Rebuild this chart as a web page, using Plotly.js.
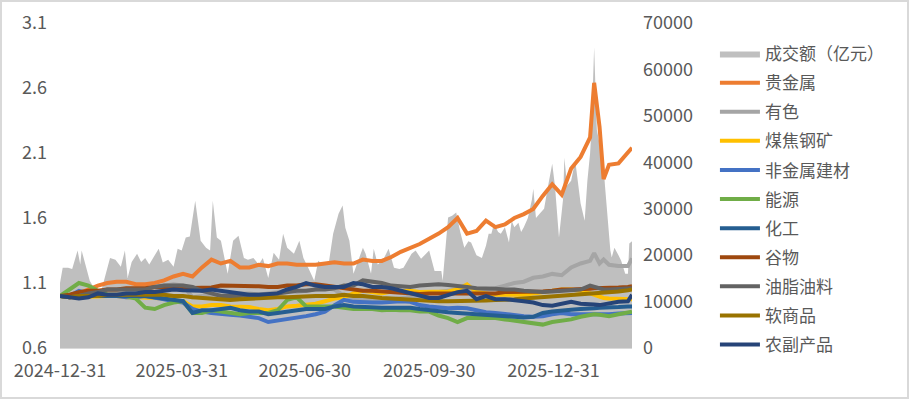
<!DOCTYPE html>
<html>
<head>
<meta charset="utf-8">
<script src="https://cdn.plot.ly/plotly-3.0.1.min.js"></script>
<style>
  html, body { margin: 0; padding: 0; background: #fff; }
  #wrap { position: relative; width: 909px; height: 399px; }
  #chart { width: 909px; height: 399px; }
  #frame { position: absolute; left: 0; top: 0; width: 909px; height: 399px; box-sizing: border-box; border: 2px solid #D9D9D9; pointer-events: none; }
</style>
</head>
<body>
<div id="wrap"><div id="chart"></div><div id="frame"></div></div>
<script>
// ---------- data ----------
const tickDates = ['2024-12-31', '2025-03-31', '2025-06-30', '2025-09-30', '2025-12-31'];

const volumeName = '成交额（亿元）';
const seriesNames = ['贵金属', '有色', '煤焦钢矿', '非金属建材', '能源', '化工', '谷物', '油脂油料', '软商品', '农副产品'];
const seriesColors = ['#ED7D31', '#A5A5A5', '#FFC000', '#4472C4', '#70AD47', '#255E91', '#9E480E', '#636363', '#997300', '#264478'];

const volDates = [
  '2024-12-31','2025-01-02','2025-01-06','2025-01-09','2025-01-13','2025-01-15','2025-01-16','2025-01-19','2025-01-22','2025-01-26',
  '2025-01-30','2025-02-02','2025-02-06','2025-02-10','2025-02-14','2025-02-17','2025-02-19','2025-02-22','2025-02-26','2025-03-01',
  '2025-03-04','2025-03-07','2025-03-10','2025-03-14','2025-03-17','2025-03-21','2025-03-25','2025-03-28','2025-03-31','2025-04-03',
  '2025-04-06','2025-04-10','2025-04-14','2025-04-18','2025-04-21','2025-04-23','2025-04-26','2025-04-29','2025-05-04','2025-05-08',
  '2025-05-12','2025-05-16','2025-05-19','2025-05-23','2025-05-27','2025-05-30','2025-06-03','2025-06-07','2025-06-11','2025-06-14',
  '2025-06-17','2025-06-22','2025-06-26','2025-06-29','2025-07-03','2025-07-07','2025-07-10','2025-07-13','2025-07-18','2025-07-21',
  '2025-07-25','2025-07-28','2025-07-30','2025-08-02','2025-08-05','2025-08-09','2025-08-12','2025-08-14','2025-08-18','2025-08-20',
  '2025-08-23','2025-08-27','2025-08-31','2025-09-04','2025-09-08','2025-09-11','2025-09-17','2025-09-20','2025-09-24','2025-09-30',
  '2025-10-04','2025-10-09','2025-10-10','2025-10-14','2025-10-17','2025-10-20','2025-10-23','2025-10-26','2025-10-29','2025-10-31',
  '2025-11-04','2025-11-08','2025-11-11','2025-11-13','2025-11-15','2025-11-17','2025-11-20','2025-11-22','2025-11-25','2025-11-28',
  '2025-11-30','2025-12-02','2025-12-05','2025-12-07','2025-12-09','2025-12-12','2025-12-15','2025-12-16','2025-12-18','2025-12-21',
  '2025-12-24','2025-12-27','2025-12-30','2026-01-01','2026-01-03','2026-01-04','2026-01-07','2026-01-08','2026-01-10','2026-01-13',
  '2026-01-16','2026-01-18','2026-01-20','2026-01-23','2026-01-25','2026-01-27','2026-01-28','2026-01-30','2026-02-01','2026-02-03',
  '2026-02-05','2026-02-07','2026-02-08','2026-02-11','2026-02-12','2026-02-14','2026-02-17','2026-02-19','2026-02-22','2026-02-24',
  '2026-02-25','2026-02-27'
];
const volume = [
  14000,17300,17300,17000,21000,18000,21000,17500,14500,12500,
  11700,15000,19400,19000,17500,21000,15100,18500,20300,18500,
  19400,18000,19400,21400,18400,19000,17500,21400,21000,23800,
  24000,31700,23100,21600,21000,31700,23800,23100,16000,23100,
  24200,19400,19000,19400,18000,19400,15100,20500,19000,24600,
  21600,20300,23100,19400,17000,14500,18800,18000,18800,24600,
  28900,30700,25900,23100,16000,19000,21600,20300,16000,21400,
  18000,19000,21400,17300,17000,17300,20300,21000,19200,21000,
  16600,16600,14500,28100,28500,29200,25000,21600,23000,22700,
  20000,19400,22000,24600,24600,26800,25000,24600,26000,22700,
  27400,26000,27000,25000,26000,28000,32000,34300,28000,29000,
  30000,35000,39700,35000,28000,23800,32000,41000,35000,36000,
  40400,36000,31100,27400,36000,41900,46900,64800,47000,44000,
  43200,35000,31000,21000,19500,21600,20000,18800,16000,16000,
  22500,23000
];

const lineDates = [
  '2024-12-31','2025-01-07','2025-01-14','2025-01-21','2025-01-28','2025-02-04','2025-02-11','2025-02-18','2025-02-25','2025-03-04',
  '2025-03-11','2025-03-18','2025-03-25','2025-04-01','2025-04-08','2025-04-15','2025-04-22','2025-04-29','2025-05-06','2025-05-13',
  '2025-05-20','2025-05-27','2025-06-03','2025-06-10','2025-06-17','2025-06-24','2025-07-01','2025-07-08','2025-07-15','2025-07-22',
  '2025-07-29','2025-08-05','2025-08-12','2025-08-19','2025-08-26','2025-09-02','2025-09-09','2025-09-16','2025-09-23','2025-09-30',
  '2025-10-07','2025-10-14','2025-10-21','2025-10-28','2025-11-04','2025-11-11','2025-11-18','2025-11-25','2025-12-02','2025-12-09',
  '2025-12-16','2025-12-23','2025-12-30','2026-01-06','2026-01-13','2026-01-20','2026-01-27','2026-01-30','2026-02-03','2026-02-06',
  '2026-02-10','2026-02-17','2026-02-24','2026-02-27'
];

const preciousMetals = [
  1.00,1.00,1.02,1.05,1.08,1.10,1.11,1.11,1.09,1.09,
  1.10,1.12,1.15,1.17,1.15,1.22,1.28,1.25,1.27,1.22,
  1.22,1.24,1.23,1.25,1.25,1.24,1.24,1.24,1.25,1.26,
  1.25,1.25,1.28,1.27,1.27,1.30,1.34,1.37,1.40,1.44,
  1.48,1.53,1.60,1.48,1.50,1.58,1.53,1.55,1.60,1.63,
  1.67,1.77,1.86,1.78,1.98,2.07,2.22,2.64,2.30,1.90,
  2.01,2.02,2.10,2.14
];
const nonferrous = [
  1.00,1.00,1.01,1.02,1.02,1.03,1.04,1.05,1.04,1.05,
  1.07,1.08,1.09,1.08,0.99,1.00,1.01,1.01,1.02,1.02,
  1.02,1.01,1.02,1.03,1.04,1.03,1.04,1.05,1.06,1.05,
  1.00,0.98,0.98,0.975,0.97,0.975,0.98,0.99,1.00,1.02,
  1.03,1.04,1.05,1.04,1.04,1.05,1.06,1.08,1.10,1.11,
  1.14,1.15,1.17,1.16,1.22,1.25,1.27,1.33,1.25,1.28,
  1.24,1.23,1.23,1.29
];
const coalSteelOre = [
  1.00,0.99,0.99,0.995,1.00,1.00,1.00,0.99,0.99,0.99,
  0.985,0.98,0.97,0.96,0.92,0.92,0.93,0.93,0.92,0.92,
  0.915,0.90,0.89,0.90,0.92,0.925,0.93,0.94,0.96,0.98,
  0.99,1.02,1.04,1.03,1.02,1.035,1.04,1.04,1.03,1.03,
  1.03,1.035,1.05,1.09,1.03,1.02,1.01,1.01,1.01,1.01,
  1.02,1.03,1.04,1.05,1.05,1.04,1.02,1.01,0.99,0.985,
  0.98,0.975,0.97,0.975
];
const buildingMaterials = [
  1.00,1.00,1.04,1.02,1.00,1.00,1.00,0.99,0.99,1.00,
  0.99,0.975,0.96,0.95,0.90,0.88,0.87,0.86,0.855,0.85,
  0.84,0.83,0.80,0.81,0.82,0.83,0.845,0.86,0.88,0.93,
  0.97,0.955,0.95,0.95,0.95,0.955,0.96,0.955,0.93,0.92,
  0.91,0.905,0.91,0.905,0.89,0.875,0.87,0.86,0.85,0.845,
  0.84,0.845,0.86,0.87,0.86,0.86,0.855,0.86,0.86,0.86,
  0.86,0.865,0.87,0.87
];
const energy = [
  1.00,1.05,1.10,1.08,1.04,1.01,1.00,1.00,0.98,0.91,
  0.90,0.93,0.95,0.96,0.87,0.87,0.89,0.88,0.87,0.86,
  0.87,0.87,0.87,0.89,0.97,0.99,0.92,0.92,0.92,0.92,
  0.91,0.90,0.90,0.90,0.89,0.895,0.89,0.89,0.88,0.88,
  0.85,0.83,0.80,0.83,0.83,0.83,0.83,0.82,0.81,0.80,
  0.79,0.78,0.80,0.81,0.82,0.84,0.85,0.86,0.855,0.85,
  0.845,0.86,0.87,0.88
];
const chemicals = [
  1.00,0.99,1.00,1.01,1.00,1.00,1.00,1.00,1.00,1.00,
  0.99,0.98,0.97,0.96,0.87,0.89,0.89,0.90,0.91,0.89,
  0.88,0.88,0.86,0.87,0.88,0.89,0.90,0.90,0.90,0.92,
  0.93,0.92,0.915,0.91,0.91,0.91,0.91,0.91,0.90,0.89,
  0.88,0.875,0.87,0.865,0.855,0.85,0.845,0.84,0.84,0.835,
  0.84,0.87,0.88,0.89,0.895,0.90,0.90,0.905,0.91,0.91,
  0.91,0.915,0.92,0.92
];
const grains = [
  1.00,1.01,1.03,1.04,1.04,1.05,1.05,1.06,1.06,1.06,
  1.07,1.07,1.065,1.06,1.06,1.06,1.065,1.08,1.08,1.08,
  1.075,1.075,1.07,1.07,1.08,1.08,1.09,1.09,1.08,1.07,
  1.06,1.05,1.04,1.04,1.035,1.03,1.02,1.015,1.015,1.02,
  1.02,1.02,1.02,1.02,1.015,1.015,1.02,1.03,1.03,1.03,
  1.03,1.035,1.04,1.05,1.05,1.05,1.055,1.06,1.06,1.06,
  1.06,1.065,1.07,1.075
];
const oilsOilseeds = [
  1.00,0.99,1.00,1.02,1.03,1.05,1.05,1.05,1.05,1.05,
  1.07,1.08,1.08,1.08,1.07,1.04,1.02,1.00,1.00,1.00,
  1.01,1.01,1.01,1.02,1.03,1.04,1.04,1.05,1.05,1.06,
  1.08,1.08,1.12,1.11,1.10,1.08,1.075,1.07,1.08,1.085,
  1.09,1.085,1.08,1.07,1.06,1.06,1.055,1.05,1.05,1.04,
  1.035,1.03,1.035,1.04,1.04,1.05,1.08,1.07,1.06,1.05,
  1.05,1.055,1.06,1.06
];
const softs = [
  1.00,0.99,1.00,1.00,1.00,1.01,1.01,1.015,1.015,1.015,
  1.015,1.01,1.00,1.00,0.99,0.985,0.98,0.975,0.97,0.975,
  0.98,0.98,0.985,0.99,0.99,0.995,0.995,1.00,1.00,1.00,
  1.01,1.00,1.00,0.99,0.985,0.98,0.975,0.97,0.965,0.96,
  0.96,0.96,0.96,0.96,0.96,0.965,0.97,0.97,0.975,0.98,
  0.985,0.99,1.00,1.00,1.01,1.015,1.02,1.02,1.02,1.025,
  1.03,1.035,1.045,1.05
];
const agriProducts = [
  1.00,0.99,0.98,0.99,1.02,1.01,1.01,1.02,1.02,1.03,
  1.03,1.04,1.05,1.045,1.04,1.04,1.05,1.04,1.035,1.02,
  1.01,1.01,1.015,1.02,1.05,1.07,1.10,1.08,1.07,1.07,
  1.07,1.10,1.09,1.07,1.07,1.06,1.04,1.02,1.00,0.985,
  0.985,1.01,1.03,1.04,0.975,1.00,0.975,0.975,0.97,0.96,
  0.95,0.93,0.925,0.94,0.955,0.94,0.94,0.935,0.93,0.935,
  0.945,0.955,0.96,1.01
];

const leftTicks = [0.6, 1.1, 1.6, 2.1, 2.6, 3.1];
const rightTicks = [0, 10000, 20000, 30000, 40000, 50000, 60000, 70000];

// ---------- chart ----------
const FONT = '"Noto Sans CJK SC", "Microsoft YaHei", "Noto Sans", sans-serif';
const TXT = '#595959';
const seriesValues = [preciousMetals, nonferrous, coalSteelOre, buildingMaterials, energy, chemicals, grains, oilsOilseeds, softs, agriProducts];

const traces = [{
  type: 'scatter', mode: 'lines', name: volumeName,
  x: volDates, y: volume, yaxis: 'y',
  fill: 'tozeroy', fillcolor: '#BFBFBF',
  line: { width: 0, color: '#BFBFBF' },
  legendgroup: 'g0', hoverinfo: 'skip'
}];
seriesNames.forEach((n, i) => {
  traces.push({
    type: 'scatter', mode: 'lines', name: n,
    x: lineDates, y: seriesValues[i], yaxis: 'y2',
    line: { width: 4, color: seriesColors[i] },
    legendgroup: 'g' + (i + 1), hoverinfo: 'skip'
  });
});

const layout = {
  width: 909, height: 399,
  margin: { l: 60, r: 277, t: 23, b: 51 },
  paper_bgcolor: '#ffffff', plot_bgcolor: 'rgba(0,0,0,0)',
  font: { family: FONT, color: TXT, size: 17 },
  showlegend: true,
  legend: {
    x: 1.145, xanchor: 'left', y: 0.96, yanchor: 'top',
    font: { family: FONT, size: 17, color: TXT },
    bgcolor: 'rgba(0,0,0,0)', tracegroupgap: 4, itemwidth: 40, maxheight: 399
  },
  xaxis: {
    type: 'date', range: ['2024-12-31', '2026-02-27'],
    tickmode: 'array', tickvals: tickDates, ticktext: tickDates,
    showgrid: false, zeroline: false, showline: true, linecolor: '#D9D9D9', linewidth: 1,
    ticks: '', tickfont: { family: FONT, size: 18, color: TXT }, ticklabelstandoff: 6
  },
  yaxis: {
    side: 'right', range: [0, 70000], tickmode: 'array', tickvals: rightTicks,
    ticktext: rightTicks.map(v => String(v)),
    showgrid: false, zeroline: false, showline: false, ticks: '',
    tickfont: { family: FONT, size: 18, color: TXT }, ticklabelstandoff: 10
  },
  yaxis2: {
    overlaying: 'y', side: 'left', range: [0.6, 3.1], tickmode: 'array', tickvals: leftTicks,
    ticktext: leftTicks.map(v => v.toFixed(1)),
    showgrid: false, zeroline: false, showline: false, ticks: '',
    tickfont: { family: FONT, size: 18, color: TXT }, ticklabelstandoff: 12
  }
};

Plotly.newPlot('chart', traces, layout, { staticPlot: true, displayModeBar: false });
</script>
</body>
</html>
